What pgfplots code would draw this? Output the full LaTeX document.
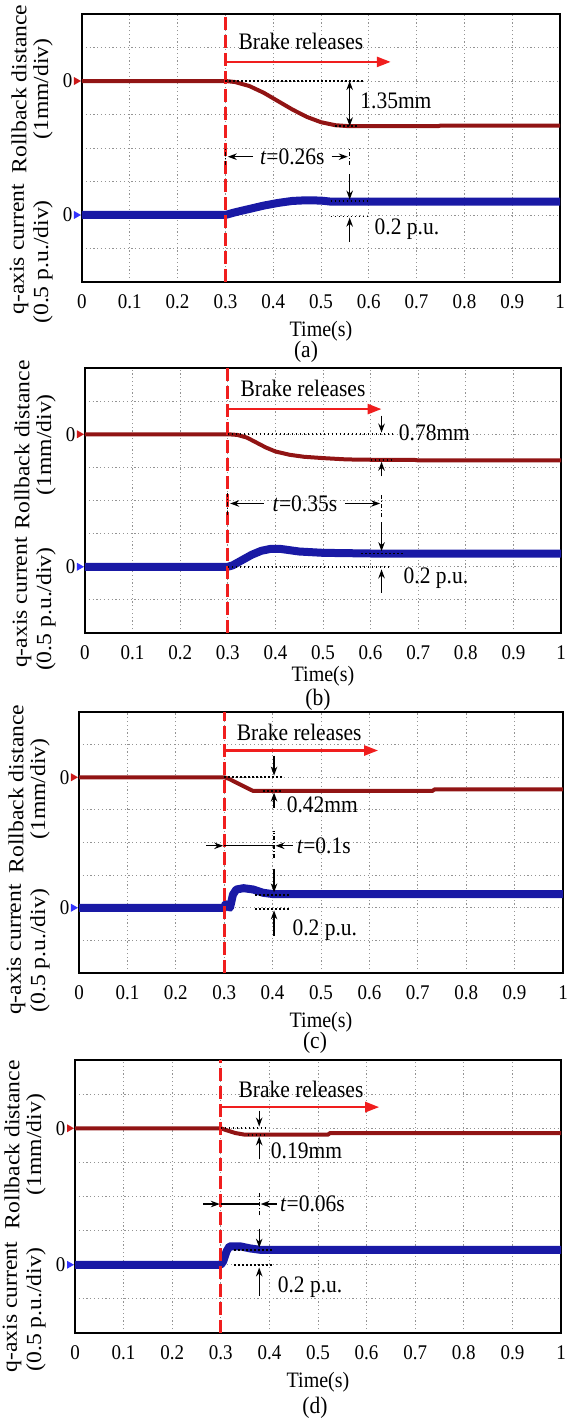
\documentclass[border=0pt]{standalone}
\usepackage{fontspec}
\setmainfont{Liberation Serif}
\usepackage{pgfplots}
\pgfplotsset{compat=1.18}
\usetikzlibrary{arrows.meta}

\definecolor{rollred}{RGB}{145,20,20}
\definecolor{curblue}{RGB}{25,25,165}
\definecolor{brakered}{RGB}{240,30,30}

\newcommand{\txt}{\fontsize{21.5}{25}\selectfont}
\newcommand{\tkf}{\fontsize{19}{22}\selectfont}
\newcommand{\ylf}{\fontsize{21.5}{25}\selectfont}

\tikzset{
  tx/.style={font=\txt, yscale=1.1},
  dim/.style={-{Stealth[length=9pt,width=6.5pt]}, line width=1.3pt, black},
  lvl/.style={line width=1.6pt, black, dash pattern=on 1.6pt off 2.4pt},
  brk/.style={brakered, line width=2.6pt, -{Triangle[length=14pt,width=10pt]}},
  rdash/.style={brakered, line width=3pt, dash pattern=on 13pt off 5pt},
  ddot/.style={line width=1.2pt, black, dash pattern=on 4pt off 2pt on 1pt off 2pt},
  ylab/.style={rotate=90, xscale=1.1, font=\ylf},
}

\pgfplotsset{
  panel/.style={
    scale only axis, anchor=north west,
    xmin=0, xmax=1, ymin=0, ymax=8,
    xtick={0,0.1,0.2,0.3,0.4,0.5,0.6,0.7,0.8,0.9,1},
    xticklabels={0,0.1,0.2,0.3,0.4,0.5,0.6,0.7,0.8,0.9,1},
    ytick={1,2,3,4,5,6,7},
    yticklabels={,0,,,,0,},
    major tick length=0pt,
    grid=major,
    major grid style={gray!85, line width=0.9pt, dash pattern=on 1.2pt off 2.6pt},
    axis line style={line width=2pt, black},
    tick label style={font=\tkf, yscale=1.1},
    /pgf/number format/assume math mode=true,
    xticklabel style={yshift=-8pt},
    yticklabel style={xshift=-6pt},
    xlabel={Time(s)},
    xlabel style={font=\fontsize{20}{24}\selectfont, yscale=1.1, yshift=-4pt},
    clip mode=individual,
  },
  rollback/.style={rollred, line width=4pt, line join=round},
  qcurrent/.style={curblue, line width=8pt, line join=round},
}

% channel labels and baseline indicators shared by all panels
% #1: centre of the upper pair, #2/#3: centres of the two lower lines
\newcommand{\channels}[3]{%
  \node[ylab] at ([xshift=-63pt]rel axis cs:0,#1) {Rollback distance};
  \node[ylab] at ([xshift=-39pt]rel axis cs:0,#1) {(1mm/div)};
  \node[ylab] at ([xshift=-63pt]rel axis cs:0,#2) {q-axis current};
  \node[ylab] at ([xshift=-39pt]rel axis cs:0,#3) {(0.5 p.u./div)};
  \fill[brakered!85!black] ([xshift=-1pt]axis cs:0,6) -- ++(-7pt,4pt) -- ++(0,-8pt) -- cycle;
  \fill[blue!80!white] ([xshift=-1pt]axis cs:0,2) -- ++(-7pt,4pt) -- ++(0,-8pt) -- cycle;
}

\begin{document}
\begin{tikzpicture}[x=1pt,y=1pt]
\useasboundingbox (0pt,0pt) rectangle (566pt,-1419pt);

% ---------------- (a) ----------------
\begin{axis}[panel, at={(82pt,-14pt)}, width=478pt, height=268pt]
\addplot[rollback] coordinates {(0,6) (0.3,6) (0.32,5.97) (0.35,5.85) (0.38,5.65) (0.41,5.4) (0.44,5.15) (0.47,4.93) (0.50,4.77) (0.53,4.68) (0.56,4.65) (0.745,4.65) (0.75,4.67) (1,4.67)};
\addplot[qcurrent] coordinates {(0,2) (0.3,2) (0.32,2.08) (0.35,2.18) (0.38,2.28) (0.41,2.36) (0.44,2.42) (0.47,2.44) (0.5,2.43) (0.52,2.4) (1,2.4)};
\channels{0.72}{0.122}{0.075}
\draw[rdash] (axis cs:0.3,0) -- (axis cs:0.3,8);
\draw[brk] (axis cs:0.3,6.57) -- (axis cs:0.646,6.57);
\node[tx] at (axis cs:0.458,7.19) {Brake releases};
\draw[lvl] (axis cs:0.3,6) -- (axis cs:0.59,6);
\draw[lvl] (axis cs:0.53,4.65) -- (axis cs:0.58,4.65);
\draw[dim, {Stealth[length=9pt,width=6.5pt]}-{Stealth[length=9pt,width=6.5pt]}] (axis cs:0.56,6) -- (axis cs:0.56,4.65);
\node[tx, anchor=west] at (axis cs:0.575,5.4) {1.35mm};
\draw[ddot] (axis cs:0.3,3.5) -- (axis cs:0.3,4.0);
\draw[ddot] (axis cs:0.56,3.5) -- (axis cs:0.56,4.0);
\draw[dim] (axis cs:0.358,3.74) -- (axis cs:0.305,3.74);
\draw[dim] (axis cs:0.522,3.74) -- (axis cs:0.556,3.74);
\node[tx] at (axis cs:0.44,3.74) {\textit{t}=0.26s};
\draw[dim] (axis cs:0.56,3.21) -- (axis cs:0.56,2.46);
\draw[lvl] (axis cs:0.52,2.42) -- (axis cs:0.6,2.42);
\draw[lvl] (axis cs:0.52,1.96) -- (axis cs:0.6,1.96);
\draw[dim] (axis cs:0.56,1.2) -- (axis cs:0.56,1.92);
\node[tx, anchor=west] at (axis cs:0.605,1.58) {0.2 p.u.};
\end{axis}
\node[tx] at (306pt,-352pt) {(a)};

% ---------------- (b) ----------------
\begin{axis}[panel, at={(85pt,-368pt)}, width=476pt, height=265pt, xlabel style={yshift=5pt}]
\addplot[rollback] coordinates {(0,6) (0.3,6) (0.32,5.98) (0.34,5.9) (0.36,5.75) (0.38,5.6) (0.40,5.48) (0.43,5.38) (0.46,5.32) (0.5,5.28) (0.55,5.24) (0.6,5.23) (0.69,5.23) (0.7,5.21) (1,5.21)};
\addplot[qcurrent] coordinates {(0,2) (0.3,2) (0.31,2.04) (0.33,2.2) (0.35,2.36) (0.37,2.48) (0.39,2.54) (0.41,2.54) (0.43,2.5) (0.45,2.46) (0.5,2.42) (0.6,2.4) (1,2.4)};
\channels{0.71}{0.115}{0.09}
\draw[rdash] (axis cs:0.3,0) -- (axis cs:0.3,8);
\draw[brk] (axis cs:0.3,6.76) -- (axis cs:0.623,6.76);
\node[tx] at (axis cs:0.458,7.37) {Brake releases};
\draw[lvl] (axis cs:0.3,6) -- (axis cs:0.646,6);
\draw[dim] (axis cs:0.623,6.56) -- (axis cs:0.623,6.05);
\node[tx, anchor=west] at (axis cs:0.652,6.05) {0.78mm};
\draw[lvl] (axis cs:0.6,5.22) -- (axis cs:0.645,5.22);
\draw[dim] (axis cs:0.623,4.73) -- (axis cs:0.623,5.17);
\draw[ddot] (axis cs:0.3,3.56) -- (axis cs:0.3,4.27);
\draw[ddot] (axis cs:0.623,3.5) -- (axis cs:0.623,4.2);
\draw[dim] (axis cs:0.376,3.91) -- (axis cs:0.305,3.91);
\draw[dim] (axis cs:0.547,3.91) -- (axis cs:0.62,3.91);
\node[tx] at (axis cs:0.462,3.91) {\textit{t}=0.35s};
\draw[dim] (axis cs:0.623,3.35) -- (axis cs:0.623,2.47);
\draw[lvl] (axis cs:0.58,2.4) -- (axis cs:0.67,2.4);
\draw[lvl] (axis cs:0.3,2.0) -- (axis cs:0.64,2.0);
\draw[dim] (axis cs:0.623,1.22) -- (axis cs:0.623,1.92);
\node[tx, anchor=west] at (axis cs:0.662,1.67) {0.2 p.u.};
\end{axis}
\node[tx] at (318pt,-700pt) {(b)};

% ---------------- (c) ----------------
\begin{axis}[panel, at={(79pt,-712pt)}, width=484pt, height=261pt]
\addplot[rollback] coordinates {(0,6) (0.3,6) (0.31,5.95) (0.33,5.8) (0.35,5.65) (0.36,5.58) (0.73,5.58) (0.735,5.63) (1,5.63)};
\addplot[qcurrent] coordinates {(0,2) (0.3,2) (0.303,2.12) (0.308,2.04) (0.312,2.0) (0.318,2.4) (0.325,2.56) (0.34,2.6) (0.36,2.56) (0.38,2.46) (0.4,2.42) (1,2.42)};
\channels{0.705}{0.09}{0.085}
\draw[rdash] (axis cs:0.3,0) -- (axis cs:0.3,8);
\draw[brk] (axis cs:0.3,6.82) -- (axis cs:0.618,6.82);
\node[tx] at (axis cs:0.455,7.39) {Brake releases};
\draw[lvl] (axis cs:0.3,6) -- (axis cs:0.42,6);
\draw[dim] (axis cs:0.403,6.66) -- (axis cs:0.403,6.05);
\draw[lvl] (axis cs:0.38,5.58) -- (axis cs:0.42,5.58);
\draw[dim] (axis cs:0.403,5.06) -- (axis cs:0.403,5.53);
\node[tx, anchor=west] at (axis cs:0.422,5.15) {0.42mm};
\draw[ddot] (axis cs:0.403,3.52) -- (axis cs:0.403,4.35);
\draw[dim] (axis cs:0.263,3.9) -- (axis cs:0.298,3.9);
\draw[line width=1.3pt] (axis cs:0.3,3.9) -- (axis cs:0.403,3.9);
\draw[dim] (axis cs:0.442,3.9) -- (axis cs:0.406,3.9);
\node[tx, anchor=west] at (axis cs:0.443,3.9) {\textit{t}=0.1s};
\draw[dim] (axis cs:0.403,3.2) -- (axis cs:0.403,2.47);
\draw[lvl] (axis cs:0.364,2.4) -- (axis cs:0.438,2.4);
\draw[lvl] (axis cs:0.364,1.97) -- (axis cs:0.438,1.97);
\draw[dim] (axis cs:0.403,1.14) -- (axis cs:0.403,1.92);
\node[tx, anchor=west] at (axis cs:0.434,1.3) {0.2 p.u.};
\end{axis}
\node[tx] at (315pt,-1043pt) {(c)};

% ---------------- (d) ----------------
\begin{axis}[panel, at={(75pt,-1060pt)}, width=486pt, height=273pt]
\addplot[rollback] coordinates {(0,6) (0.3,6) (0.31,5.95) (0.33,5.86) (0.35,5.81) (0.52,5.81) (0.525,5.86) (1,5.86)};
\addplot[qcurrent] coordinates {(0,2) (0.3,2) (0.305,2.1) (0.312,2.4) (0.318,2.54) (0.34,2.54) (0.36,2.48) (0.38,2.44) (1,2.44)};
\channels{0.69}{0.095}{0.085}
\draw[rdash] (axis cs:0.3,0) -- (axis cs:0.3,8);
\draw[brk] (axis cs:0.3,6.62) -- (axis cs:0.626,6.62);
\node[tx] at (axis cs:0.465,7.13) {Brake releases};
\draw[lvl] (axis cs:0.3,6) -- (axis cs:0.393,6);
\draw[dim] (axis cs:0.379,6.52) -- (axis cs:0.379,6.05);
\draw[lvl] (axis cs:0.355,5.81) -- (axis cs:0.393,5.81);
\draw[dim] (axis cs:0.379,5.09) -- (axis cs:0.379,5.76);
\node[tx, anchor=west] at (axis cs:0.396,5.33) {0.19mm};
\draw[ddot] (axis cs:0.379,3.45) -- (axis cs:0.379,4.1);
\draw[dim] (axis cs:0.264,3.78) -- (axis cs:0.298,3.78);
\draw[line width=1.3pt] (axis cs:0.3,3.78) -- (axis cs:0.379,3.78);
\draw[dim] (axis cs:0.415,3.78) -- (axis cs:0.382,3.78);
\node[tx, anchor=west] at (axis cs:0.415,3.78) {\textit{t}=0.06s};
\draw[dim] (axis cs:0.379,3.06) -- (axis cs:0.379,2.5);
\draw[lvl] (axis cs:0.327,2.44) -- (axis cs:0.405,2.44);
\draw[lvl] (axis cs:0.327,2.0) -- (axis cs:0.405,2.0);
\draw[dim] (axis cs:0.379,1.09) -- (axis cs:0.379,1.92);
\node[tx, anchor=west] at (axis cs:0.41,1.33) {0.2 p.u.};
\end{axis}
\node[tx] at (315pt,-1408pt) {(d)};
\end{tikzpicture}
\end{document}
